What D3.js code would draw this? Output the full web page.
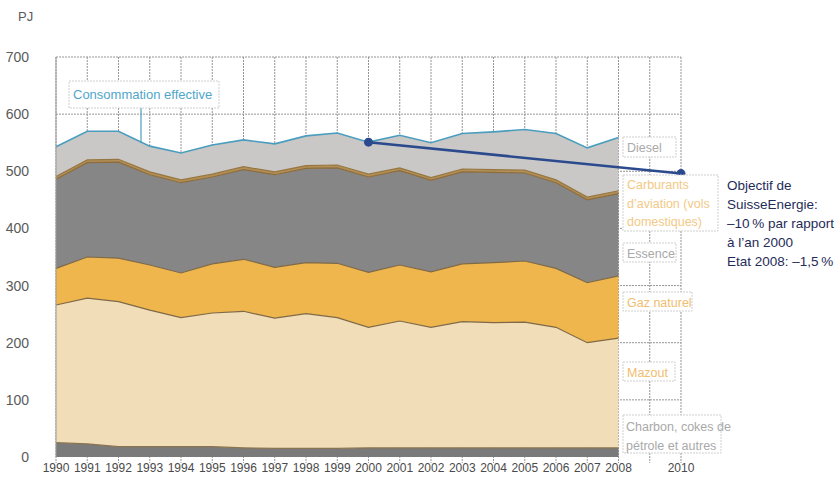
<!DOCTYPE html>
<html><head><meta charset="utf-8">
<script src="https://cdn.jsdelivr.net/npm/d3@7"></script>
<style>
html,body{margin:0;padding:0;background:#fff;}
svg{display:block;font-family:"Liberation Sans",Arial,sans-serif;}
</style></head>
<body><svg id="c" width="839" height="485"></svg>
<script>
const years = [1990,1991,1992,1993,1994,1995,1996,1997,1998,1999,2000,2001,2002,2003,2004,2005,2006,2007,2008];
const charbon  = [25,23,18,18,18,18,16,15,15,15,16,16,16,16,16,16,16,16,16];
const mazout   = [241,255,254,239,226,234,239,228,236,229,211,222,211,221,219,220,211,184,192];
const gaz      = [64,72,76,79,78,86,91,89,89,95,96,98,97,101,105,107,103,105,109];
const essence  = [156,165,168,158,158,152,157,162,165,167,167,165,160,161,158,154,150,145,144];
const aviation = [5,5,5,5,5,5,5,5,5,5,5,5,5,5,5,5,5,5,5];
const diesel   = [52,50,49,45,47,51,47,49,52,56,56,57,61,62,66,71,81,86,93];
const target = [{year:2000, value:551},{year:2010, value:496}];
const yTicks = [0,100,200,300,400,500,600,700];
const xTickYears = d3.range(1990,2011);
const xLabelYears = years.concat([2010]);
const seriesKeys = ["charbon","mazout","gaz","essence","aviation","diesel"];
const seriesColors = {charbon:"#7a7a7a", mazout:"#f1ddb8", gaz:"#f0b64e", essence:"#868686", aviation:"#b38f55", diesel:"#c9c8c6"};
const labelTexts = {
  total:["Consommation effective"],
  diesel:["Diesel"],
  aviation:["Carburants","d’aviation (vols","domestiques)"],
  essence:["Essence"],
  gaz:["Gaz naturel"],
  mazout:["Mazout"],
  charbon:["Charbon, cokes de","pétrole et autres"]
};
const targetText = ["Objectif de","SuisseEnergie:","–10\u2009% par rapport","à l’an 2000","Etat 2008: –1,5\u2009%"];

const table = years.map((y,i)=>({year:y, charbon:charbon[i], mazout:mazout[i], gaz:gaz[i], essence:essence[i], aviation:aviation[i], diesel:diesel[i]}));

const svg = d3.select("#c");
const x = d3.scaleLinear().domain([1990,2010]).range([56,681]);
const y = d3.scaleLinear().domain([0,700]).range([457,57]);

const grid = svg.append("g");
grid.selectAll("line.h").data(yTicks.filter(d=>d>0)).join("line")
  .attr("x1",x(1990)).attr("x2",x(2010)).attr("y1",d=>y(d)).attr("y2",d=>y(d))
  .attr("stroke","#959595").attr("stroke-width",1).attr("stroke-dasharray","2,1");
grid.selectAll("line.v").data(xTickYears).join("line")
  .attr("x1",d=>x(d)).attr("x2",d=>x(d)).attr("y1",y(700)).attr("y2",y(0)+6)
  .attr("stroke","#959595").attr("stroke-width",1).attr("stroke-dasharray","2,1");

const stack = d3.stack().keys(seriesKeys)(table);
const area = d3.area().x(d=>x(d.data.year)).y0(d=>y(d[0])).y1(d=>y(d[1]));
const topLine = d3.line().x(d=>x(d.data.year)).y(d=>y(d[1]));
svg.append("g").selectAll("path").data(stack).join("path")
  .attr("d",area).attr("fill",d=>seriesColors[d.key]);
const bColors = {charbon:"#8a7350", mazout:"#7f6947", gaz:"#7f6947", essence:"#8c6c3c", aviation:"#967640"};
svg.append("g").selectAll("path").data(stack.filter(s=>s.key!=="diesel")).join("path")
  .attr("d",topLine).attr("fill","none").attr("stroke",d=>bColors[d.key]).attr("stroke-width",1.2);
svg.append("path").datum(stack[stack.length-1]).attr("d",topLine)
  .attr("fill","none").attr("stroke","#4b9dbf").attr("stroke-width",1.6);

svg.append("line").attr("x1",x(1990)).attr("x2",x(1990)).attr("y1",y(700)).attr("y2",y(0))
  .attr("stroke","#9a9a9a");

svg.append("g").selectAll("text").data(yTicks).join("text")
  .attr("x",29).attr("y",d=>y(d)+5).attr("text-anchor","end")
  .attr("font-size",14).attr("fill","#5a5a5a").text(d=>d);
svg.append("text").attr("x",18).attr("y",21).attr("font-size",13).attr("fill","#5a5a5a").text("PJ");
svg.append("g").selectAll("text").data(xLabelYears).join("text")
  .attr("x",d=>x(d)).attr("y",472).attr("text-anchor","middle")
  .attr("font-size",12).attr("fill","#4a4a4a").text(d=>d);

svg.append("line").attr("x1",x(target[0].year)).attr("y1",y(target[0].value))
  .attr("x2",x(target[1].year)).attr("y2",y(target[1].value))
  .attr("stroke","#2b4a8e").attr("stroke-width",2.5);
svg.append("g").selectAll("circle").data(target).join("circle")
  .attr("cx",d=>x(d.year)).attr("cy",d=>y(d.value)).attr("r",4.5).attr("fill","#2b4a8e");

function box(x0,y0,w,h,lines,color,lh,size){
  svg.append("rect").attr("x",x0).attr("y",y0).attr("width",w).attr("height",h)
    .attr("fill","#fff").attr("stroke","#cfcfcf").attr("stroke-dasharray","2,1");
  const t = svg.append("text").attr("font-size",size).attr("fill",color);
  lines.forEach((l,i)=>t.append("tspan").attr("x",x0+4).attr("y",y0+lh*(i+1)-4).text(l));
}
svg.append("line").attr("x1",141).attr("x2",141).attr("y1",108).attr("y2",143)
  .attr("stroke","#4b9dbf").attr("stroke-width",1.2);
box(69,81,150,27,labelTexts.total,"#4fa6c9",22,13);
box(623,137,53,20,labelTexts.diesel,"#a9a9a9",19,12.5);
box(623,175,95,56,labelTexts.aviation,"#f3c986",18.3,12.5);
box(623,243,53,19,labelTexts.essence,"#a9a9a9",18.5,12.5);
box(623,292,69,19,labelTexts.gaz,"#f1bd6e",18.5,12.5);
box(623,362,52,19,labelTexts.mazout,"#f1bd6e",18.5,12.5);
svg.append("rect").attr("x",623).attr("y",415).attr("width",98).attr("height",38)
  .attr("fill","#fff").attr("stroke","#cfcfcf").attr("stroke-dasharray","2,1");
const ct = svg.append("text").attr("font-size",12.5).attr("fill","#a9a9a9");
labelTexts.charbon.forEach((l,i)=>ct.append("tspan").attr("x",626).attr("y",431+i*18.5).text(l));

const tt = svg.append("text").attr("font-size",13.5).attr("fill","#1f2c58");
targetText.forEach((l,i)=>tt.append("tspan").attr("x",727).attr("y",190+i*19).text(l));
</script></body></html>
